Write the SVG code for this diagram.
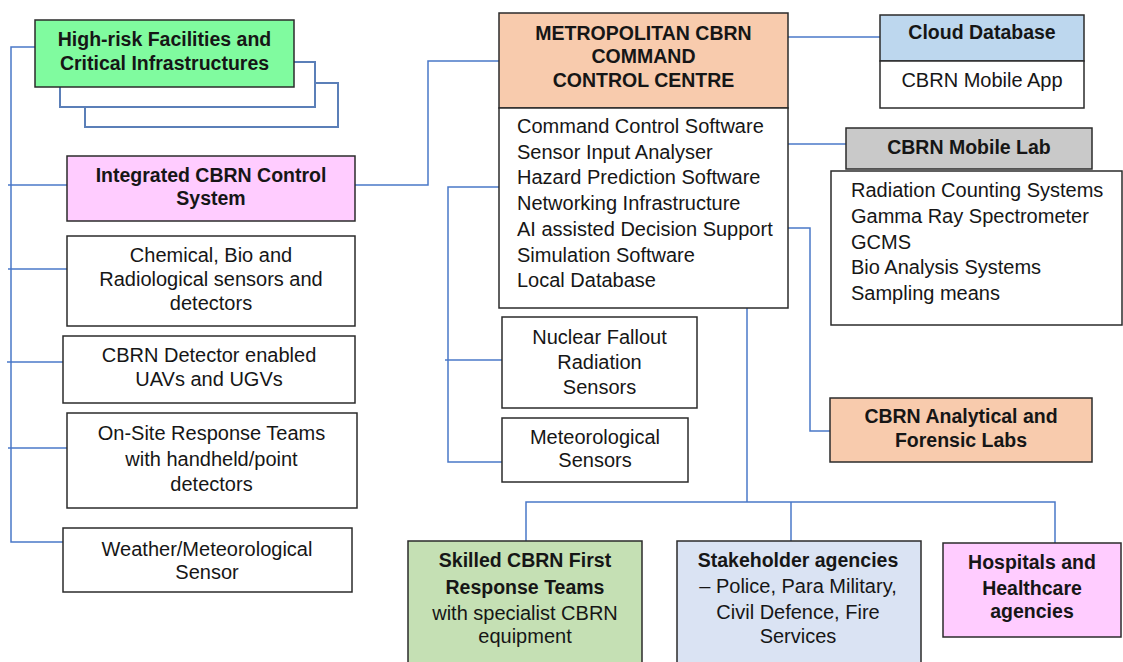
<svg xmlns="http://www.w3.org/2000/svg" width="1123" height="662" viewBox="0 0 1123 662">
<style>
.box{stroke:#2b2b2b;stroke-width:1.5}
.sh{fill:none;stroke:#5b7fb8;stroke-width:2}
.c{fill:none;stroke:#4a78c8;stroke-width:1.5}
text{font-family:"Liberation Sans",Arial,sans-serif;fill:#161616}
.b{font-weight:bold;font-size:19.5px;text-anchor:middle}
.n{font-size:20px;text-anchor:middle}
.l{font-size:20px}
</style>
<rect width="1123" height="662" fill="#ffffff"/>
<g id="connectors">
<polyline class="c" points="35,47 11,47 11,542 63,542"/>
<line class="c" x1="8" y1="185" x2="67" y2="185"/>
<line class="c" x1="8" y1="269" x2="69" y2="269"/>
<line class="c" x1="7" y1="362" x2="64" y2="362"/>
<line class="c" x1="8" y1="448" x2="67" y2="448"/>
<polyline class="c" points="355,185 428,185 428,61 499,61"/>
<polyline class="c" points="499,187 448,187 448,462 503,462"/>
<line class="c" x1="445" y1="360" x2="503" y2="360"/>
<line class="c" x1="788" y1="37" x2="880" y2="37"/>
<line class="c" x1="788" y1="144" x2="846" y2="144"/>
<polyline class="c" points="788,228 810,228 810,431 830,431"/>
<line class="c" x1="747" y1="287" x2="747" y2="502"/>
<polyline class="c" points="526,541 526,502 1055,502 1055,543"/>
<line class="c" x1="791" y1="502" x2="791" y2="541"/>
</g>
<g id="high-risk">
<rect class="sh" x="85" y="83" width="253" height="44"/>
<rect class="sh" x="60" y="62" width="255" height="45" fill="#fff" style="fill:#fff"/>
<rect class="box" x="35" y="20" width="259" height="67" fill="#80fb9f"/>
<text class="b" x="164.5" y="46">High-risk Facilities and</text>
<text class="b" x="164.5" y="70">Critical Infrastructures</text>
</g>
<g id="integrated">
<rect class="box" x="67" y="156" width="288" height="65" fill="#ffccff"/>
<text class="b" x="211" y="182">Integrated CBRN Control</text>
<text class="b" x="211" y="205">System</text>
</g>
<g id="chemical">
<rect class="box" x="67" y="236" width="288" height="90" fill="#ffffff"/>
<text class="n" x="211" y="262">Chemical, Bio and</text>
<text class="n" x="211" y="286">Radiological sensors and</text>
<text class="n" x="211" y="310">detectors</text>
</g>
<g id="uav">
<rect class="box" x="63" y="336" width="292" height="67" fill="#ffffff"/>
<text class="n" x="209" y="362">CBRN Detector enabled</text>
<text class="n" x="209" y="386">UAVs and UGVs</text>
</g>
<g id="onsite">
<rect class="box" x="67" y="413" width="290" height="95" fill="#ffffff"/>
<text class="n" x="211.5" y="440">On-Site Response Teams</text>
<text class="n" x="211.5" y="466">with handheld/point</text>
<text class="n" x="211.5" y="491">detectors</text>
</g>
<g id="weather">
<rect class="box" x="63" y="528" width="289" height="64" fill="#ffffff"/>
<text class="n" x="207" y="556">Weather/Meteorological</text>
<text class="n" x="207" y="579">Sensor</text>
</g>
<g id="command-centre">
<rect class="box" x="499" y="13" width="289" height="95" fill="#f8cbad"/>
<rect class="box" x="499" y="108" width="289" height="200" fill="#ffffff"/>
<text class="b" x="643.5" y="40">METROPOLITAN CBRN</text>
<text class="b" x="643.5" y="63">COMMAND</text>
<text class="b" x="643.5" y="87">CONTROL CENTRE</text>
<text class="l" x="517" y="133">Command Control Software</text>
<text class="l" x="517" y="159">Sensor Input Analyser</text>
<text class="l" x="517" y="184">Hazard Prediction Software</text>
<text class="l" x="517" y="210">Networking Infrastructure</text>
<text class="l" x="517" y="236">AI assisted Decision Support</text>
<text class="l" x="517" y="262">Simulation Software</text>
<text class="l" x="517" y="287">Local Database</text>
</g>
<g id="nuclear">
<rect class="box" x="502" y="317" width="195" height="91" fill="#ffffff"/>
<text class="n" x="599.5" y="344">Nuclear Fallout</text>
<text class="n" x="599.5" y="369">Radiation</text>
<text class="n" x="599.5" y="394">Sensors</text>
</g>
<g id="meteo">
<rect class="box" x="502" y="418" width="186" height="64" fill="#ffffff"/>
<text class="n" x="595" y="444">Meteorological</text>
<text class="n" x="595" y="467">Sensors</text>
</g>
<g id="cloud">
<rect class="box" x="880" y="15" width="204" height="46" fill="#bdd7ee"/>
<rect class="box" x="880" y="61" width="204" height="47" fill="#ffffff"/>
<text class="b" x="982" y="39">Cloud Database</text>
<text class="n" x="982" y="87">CBRN Mobile App</text>
</g>
<g id="mobile-lab">
<rect class="box" x="846" y="128" width="246" height="41" fill="#c9c9c9"/>
<rect class="box" x="831" y="171" width="291" height="154" fill="#ffffff"/>
<text class="b" x="969" y="154">CBRN Mobile Lab</text>
<text class="l" x="851" y="197">Radiation Counting Systems</text>
<text class="l" x="851" y="223">Gamma Ray Spectrometer</text>
<text class="l" x="851" y="249">GCMS</text>
<text class="l" x="851" y="274">Bio Analysis Systems</text>
<text class="l" x="851" y="300">Sampling means</text>
</g>
<g id="forensic">
<rect class="box" x="830" y="398" width="262" height="64" fill="#f8cbad"/>
<text class="b" x="961" y="423">CBRN Analytical and</text>
<text class="b" x="961" y="447">Forensic Labs</text>
</g>
<g id="first-response">
<rect class="box" x="408" y="541" width="234" height="130" fill="#c5e0b4"/>
<text class="b" x="525" y="567">Skilled CBRN First</text>
<text class="b" x="525" y="594">Response Teams</text>
<text class="n" x="525" y="620">with specialist CBRN</text>
<text class="n" x="525" y="643">equipment</text>
</g>
<g id="stakeholders">
<rect class="box" x="677" y="541" width="244" height="130" fill="#dae3f3"/>
<text class="b" x="798" y="567">Stakeholder agencies</text>
<text class="n" x="798" y="593">– Police, Para Military,</text>
<text class="n" x="798" y="619">Civil Defence, Fire</text>
<text class="n" x="798" y="643">Services</text>
</g>
<g id="hospitals">
<rect class="box" x="943" y="543" width="178" height="94" fill="#ffccff"/>
<text class="b" x="1032" y="569">Hospitals and</text>
<text class="b" x="1032" y="595">Healthcare</text>
<text class="b" x="1032" y="618">agencies</text>
</g>
</svg>
